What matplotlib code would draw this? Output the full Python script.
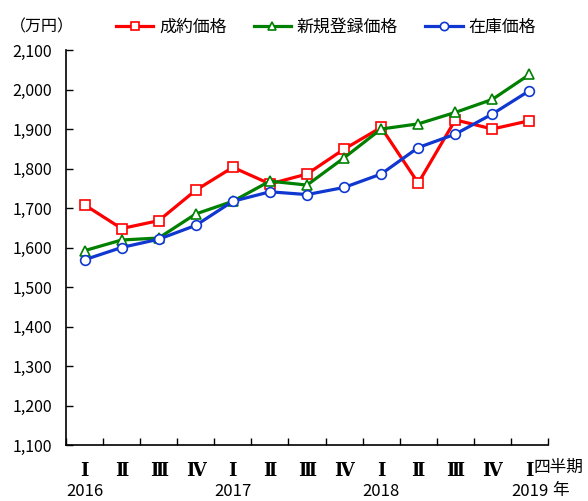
import matplotlib
matplotlib.use("Agg")
import matplotlib.pyplot as plt
import matplotlib.transforms as mtrans
from matplotlib.ticker import FuncFormatter, MultipleLocator

plt.rcParams['font.family'] = ['Noto Sans CJK JP', 'DejaVu Sans']

quarters = ["Ⅰ", "Ⅱ", "Ⅲ", "Ⅳ", "Ⅰ", "Ⅱ", "Ⅲ", "Ⅳ", "Ⅰ", "Ⅱ", "Ⅲ", "Ⅳ", "Ⅰ"]
years = ["2016", "2017", "2018", "2019"]
year_pos = [0, 4, 8, 12]

seiyaku = [1708, 1648, 1668, 1745, 1803, 1761, 1786, 1849, 1904, 1763, 1923, 1900, 1921]
shinki = [1592, 1619, 1624, 1685, 1717, 1768, 1758, 1827, 1900, 1913, 1942, 1975, 2038]
zaiko = [1569, 1600, 1621, 1656, 1717, 1741, 1734, 1752, 1786, 1853, 1887, 1938, 1997]

series_names = ["成約価格", "新規登録価格", "在庫価格"]
colors = ["#FF0000", "#008000", "#1038D0"]
markers = ["s", "^", "o"]

fig = plt.figure(figsize=(5.88, 5.01), dpi=100)
ax = fig.add_axes([66/588, 1-445/501, (548-66)/588, (445-50)/501])

x = list(range(len(quarters)))
for vals, name, c, m in zip([seiyaku, shinki, zaiko], series_names, colors, markers):
    ax.plot(x, vals, color=c, lw=2.3, marker=m, markersize=7 if m != "^" else 7.5,
            markerfacecolor="white", markeredgecolor=c, markeredgewidth=1.2,
            label=name, zorder=3)

ax.set_xlim(-0.5, 12.5)
ax.set_ylim(1100, 2100)
ax.yaxis.set_major_locator(MultipleLocator(100))
ax.yaxis.set_major_formatter(FuncFormatter(lambda v, p: f"{int(v):,}"))

ax.set_xticks(x)
ax.set_xticklabels(quarters, fontsize=13, family=['DejaVu Serif', 'Noto Sans CJK JP'],
                   fontweight='bold')
ax.set_xticks([i - 0.5 for i in range(len(quarters) + 1)], minor=True)
ax.tick_params(axis='x', which='major', length=0, pad=12)
ax.tick_params(axis='x', which='minor', direction='in', length=5, width=1)
ax.tick_params(axis='y', direction='in', length=5, width=1, labelsize=11.5, pad=10)

for s in ["top", "right"]:
    ax.spines[s].set_visible(False)
for s in ["left", "bottom"]:
    ax.spines[s].set_linewidth(1.2)

trans = mtrans.blended_transform_factory(ax.transData, fig.transFigure)
for yp, yl in zip(year_pos, years):
    ax.text(yp, 1-491/501, yl, transform=trans, ha='center', va='center', fontsize=12)
ax.text(12.1, 1-467/501, "四半期", transform=trans, ha='left', va='center', fontsize=12)
ax.text(12.62, 1-491/501, "年", transform=trans, ha='left', va='center', fontsize=12)

fig.text(10/588, 1-27/501, "（万円）", ha='left', va='center', fontsize=11.5)

ax.legend(loc='center', bbox_to_anchor=(326/588, 1-27/501), bbox_transform=fig.transFigure,
          ncol=3, frameon=False, fontsize=12.2, handlelength=2.2, columnspacing=1.6,
          handletextpad=0.35, markerscale=0.85)

fig.savefig("out.png", dpi=100)
